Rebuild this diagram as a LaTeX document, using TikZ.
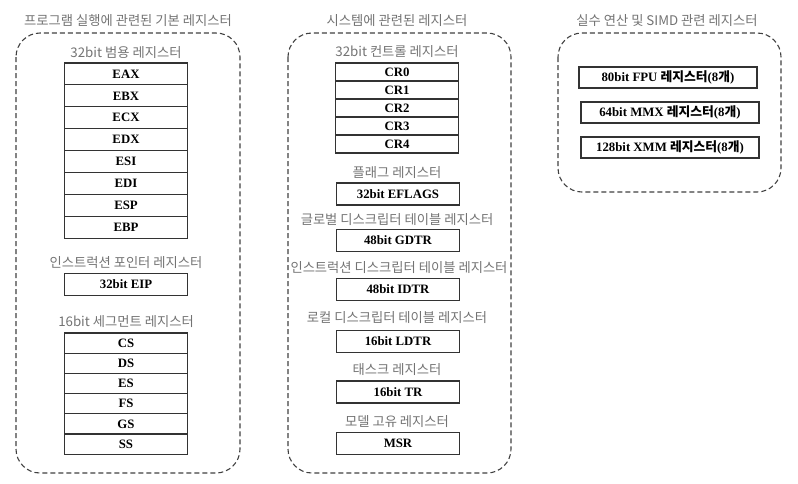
\documentclass[tikz,border=0pt]{standalone}
\usepackage{fontspec}
\setmainfont{Liberation Serif}
\newfontfamily\kr{Noto Sans CJK KR}
\usetikzlibrary{positioning}

\tikzset{
  group/.style={draw=black!75, dash pattern=on 5pt off 3pt, line width=1.1pt, rounded corners=24pt},
  title/.style={font=\kr\fontsize{13.3}{16}\selectfont, text=black!55},
  reg/.style={draw=black!80, line width=1.1pt, minimum width=123pt, minimum height=22pt,
    inner sep=0pt, outer sep=0pt, font=\bfseries\fontsize{12.8}{14}\selectfont},
  wide/.style={reg, minimum width=178pt, minimum height=21pt},
}

\begin{document}
\begin{tikzpicture}[x=1pt, y=-1pt]
  \useasboundingbox (0,0) rectangle (798,483);

  % program execution registers
  \draw[group] (16,33) rectangle (240,473);
  \node[title] (basic) at (128,21) {프로그램 실행에 관련된 기본 레지스터};
  \node[title] (gp) at (126,53) {32bit 범용 레지스터};
  \node[reg, minimum height=21.9pt, anchor=north] (EAX) at (126,63) {EAX};
  \foreach \r [remember=\r as \p (initially EAX)] in {EBX,ECX,EDX,ESI,EDI,ESP,EBP}
    \node[reg, minimum height=21.9pt, below=0pt of \p] (\r) {\r};
  \node[title] (ip) at (126,263) {인스트럭션 포인터 레지스터};
  \node[reg] (EIP) at (126,284.5) {32bit EIP};
  \node[title] (seg) at (126,322) {16bit 세그먼트 레지스터};
  \node[reg, minimum height=20.2pt, anchor=north] (CS) at (126,333) {CS};
  \foreach \r [remember=\r as \p (initially CS)] in {DS,ES,FS,GS,SS}
    \node[reg, minimum height=20.2pt, below=0pt of \p] (\r) {\r};

  % system registers
  \draw[group] (288,33) rectangle (511,473);
  \node[title] (sys) at (397,21) {시스템에 관련된 레지스터};
  \node[title] (ctrl) at (397,52) {32bit 컨트롤 레지스터};
  \node[reg, minimum height=18pt, anchor=north] (CR0) at (397,63) {CR0};
  \foreach \r [remember=\r as \p (initially CR0)] in {CR1,CR2,CR3,CR4}
    \node[reg, minimum height=18pt, below=0pt of \p] (\r) {\r};
  \node[title] (flag) at (397,173) {플래그 레지스터};
  \node[reg] (EFLAGS) at (398,194) {32bit EFLAGS};
  \node[title] (gdt) at (397,220) {글로벌 디스크립터 테이블 레지스터};
  \node[reg] (GDTR) at (398,240.5) {48bit GDTR};
  \node[title] (idt) at (399,268) {인스트럭션 디스크립터 테이블 레지스터};
  \node[reg] (IDTR) at (398,289.5) {48bit IDTR};
  \node[title] (ldt) at (397,318) {로컬 디스크립터 테이블 레지스터};
  \node[reg] (LDTR) at (398,341.5) {16bit LDTR};
  \node[title] (task) at (397,370) {태스크 레지스터};
  \node[reg] (TR) at (398,392) {16bit TR};
  \node[title] (model) at (397,422) {모델 고유 레지스터};
  \node[reg] (MSR) at (398,443.5) {MSR};

  % floating point / SIMD registers
  \draw[group] (558,33) rectangle (781,192);
  \node[title] (simd) at (667,21) {실수 연산 및 SIMD 관련 레지스터};
  \node[wide] (FPU) at (668,77.5) {80bit FPU {\kr 레지스터}(8{\kr 개})};
  \node[wide] (MMX) at (670,112.5) {64bit MMX {\kr 레지스터}(8{\kr 개})};
  \node[wide] (XMM) at (670,147.5) {128bit XMM {\kr 레지스터}(8{\kr 개})};
\end{tikzpicture}
\end{document}
